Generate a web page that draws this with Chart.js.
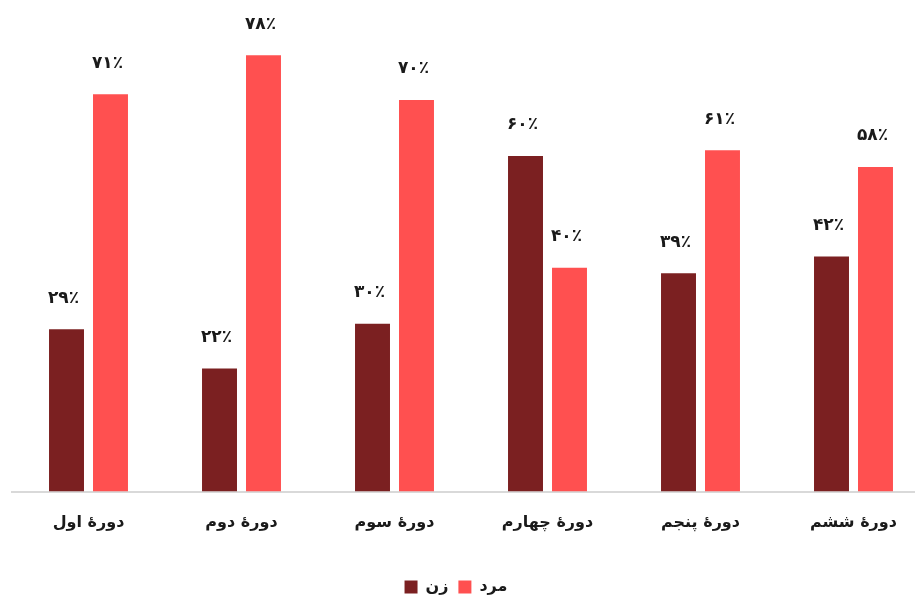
<!DOCTYPE html>
<html lang="fa">
<head>
<meta charset="utf-8">
<title>سهم زن و مرد در دوره‌ها</title>
<script src="https://cdn.jsdelivr.net/npm/chart.js@4.4.1/dist/chart.umd.min.js"></script>
<style>
  html, body { margin: 0; padding: 0; background: #fff; overflow: hidden; }
  #wrap { width: 930px; height: 605px; }
</style>
</head>
<body>
<div id="wrap"><canvas id="chart" width="930" height="605"></canvas></div>
<script>
// Periods along the x axis
const PERIODS = ["دورهٔ اول", "دورهٔ دوم", "دورهٔ سوم", "دورهٔ چهارم", "دورهٔ پنجم", "دورهٔ ششم"];

// Share per period, in percent
const WOMEN = [29, 22, 30, 60, 39, 42];
const MEN = [71, 78, 70, 40, 61, 58];

const SERIES_NAMES = ["زن", "مرد"];
const SERIES_COLORS = ["#7B2021", "#FF5050"];

const Y_MAX = 80;
const FONT = "'DejaVu Sans', sans-serif";
const TEXT_COLOR = "#1a1a1a";

// Utility: 29 -> ۲۹٪
const FA_DIGITS = "۰۱۲۳۴۵۶۷۸۹";
function toPersianPercent(value) {
  return String(value).replace(/\d/g, (d) => FA_DIGITS[d]) + "٪";
}

// Value labels above every bar
const barLabels = {
  id: "barLabels",
  afterDatasetsDraw(chart) {
    const ctx = chart.ctx;
    ctx.save();
    ctx.font = "bold 17px " + FONT;
    ctx.fillStyle = TEXT_COLOR;
    ctx.textAlign = "center";
    ctx.textBaseline = "middle";
    chart.data.datasets.forEach((ds, i) => {
      chart.getDatasetMeta(i).data.forEach((bar, j) => {
        ctx.fillText(toPersianPercent(ds.data[j]), bar.x - 3, bar.y - 31);
      });
    });
    ctx.restore();
  },
};

// Pull the legend a bit to the left of the plot centre
const legendNudge = {
  id: "legendNudge",
  afterLayout(chart) {
    if (!chart.legend) return;
    chart.legend.left -= 15;
    chart.legend.right -= 15;
  },
};

Chart.defaults.font.family = FONT;

new Chart(document.getElementById("chart"), {
  type: "bar",
  data: {
    labels: PERIODS,
    datasets: [
      {
        label: SERIES_NAMES[0],
        data: WOMEN,
        backgroundColor: SERIES_COLORS[0],
        borderWidth: 0,
      },
      {
        label: SERIES_NAMES[1],
        data: MEN,
        backgroundColor: SERIES_COLORS[1],
        borderWidth: 0,
      },
    ],
  },
  options: {
    responsive: false,
    animation: false,
    categoryPercentage: 0.575,
    barPercentage: 0.795,
    layout: {
      padding: { top: 44, left: 12, right: 0, bottom: 0 },
    },
    plugins: {
      legend: {
        position: "bottom",
        labels: {
          boxWidth: 13,
          boxHeight: 13,
          padding: 10,
          color: TEXT_COLOR,
          font: { size: 16, weight: "bold" },
        },
      },
      tooltip: { enabled: false },
    },
    scales: {
      x: {
        grid: { display: false, drawTicks: false },
        border: { color: "#d9d9d9", width: 2 },
        ticks: {
          color: TEXT_COLOR,
          font: { size: 16, weight: "bold" },
          padding: 22,
        },
        afterFit(scale) {
          scale.height = 77.5;
        },
      },
      y: {
        display: false,
        min: 0,
        max: Y_MAX,
      },
    },
  },
  plugins: [barLabels, legendNudge],
});
</script>
</body>
</html>
